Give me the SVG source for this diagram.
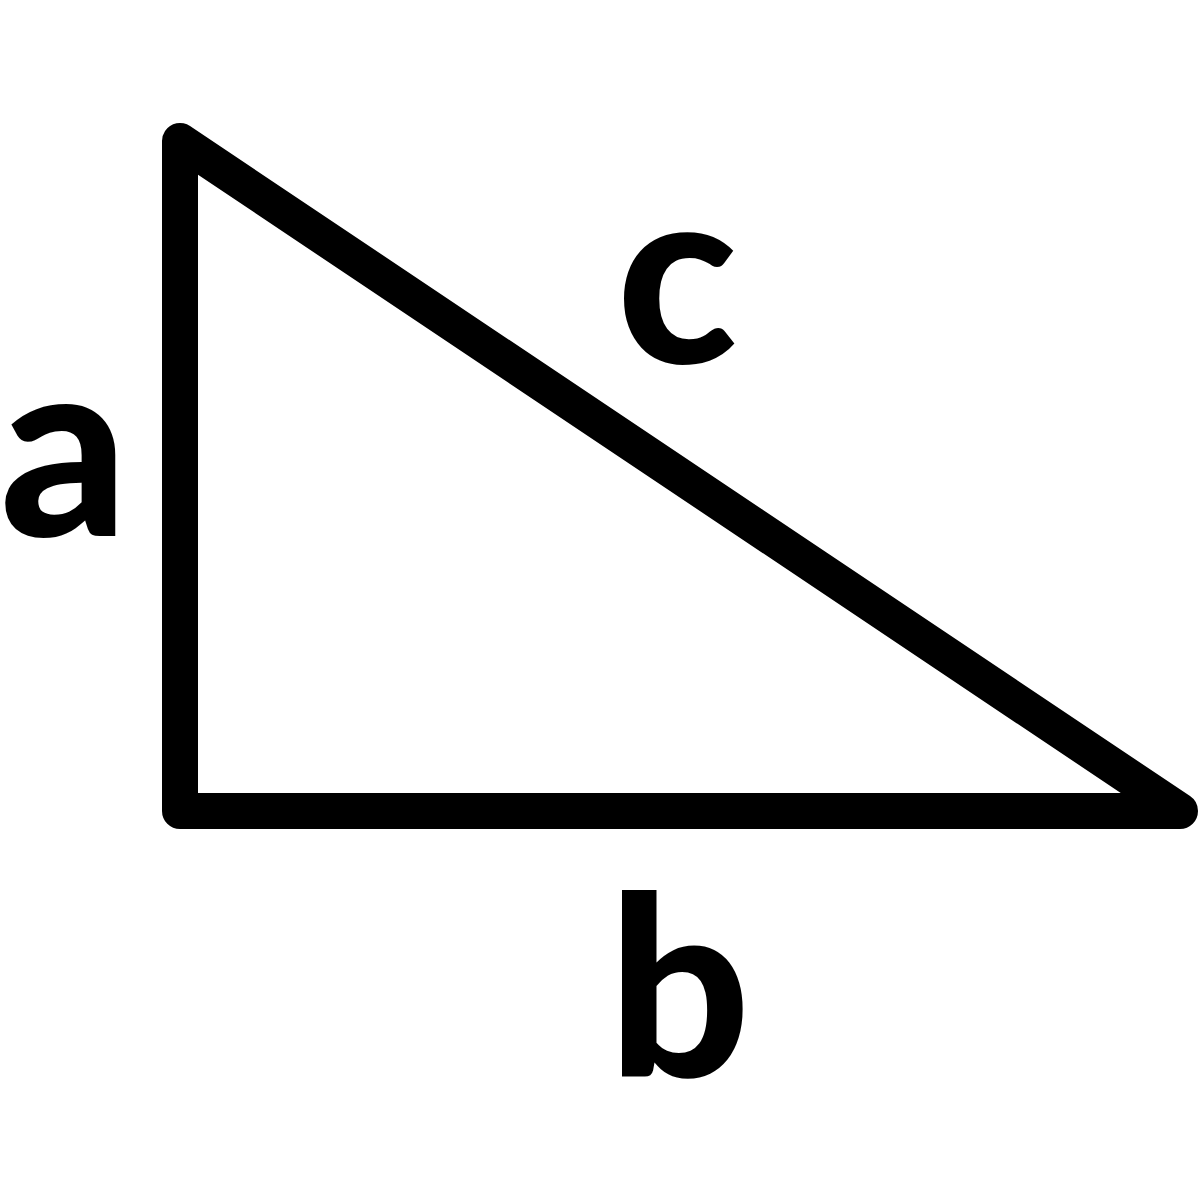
<svg xmlns="http://www.w3.org/2000/svg" width="1200" height="1200" viewBox="0 0 1200 1200">
<style>
.edge{fill:none;stroke:#000;stroke-width:36;stroke-linejoin:round;stroke-linecap:round}
.lbl{font-family:Lato,"Open Sans",sans-serif;font-weight:900;font-size:250px;fill:#000;text-anchor:middle}
</style>
<rect width="1200" height="1200" fill="#fff"/>
<g id="connectors">
<polygon class="edge" points="180,141 180,811 1180,811"/>
</g>
<g id="label-a"><text class="lbl" x="64" y="536">a</text></g>
<g id="label-b"><text class="lbl" x="679" y="1077">b</text></g>
<g id="label-c"><text class="lbl" x="677" y="363">c</text></g>
</svg>
